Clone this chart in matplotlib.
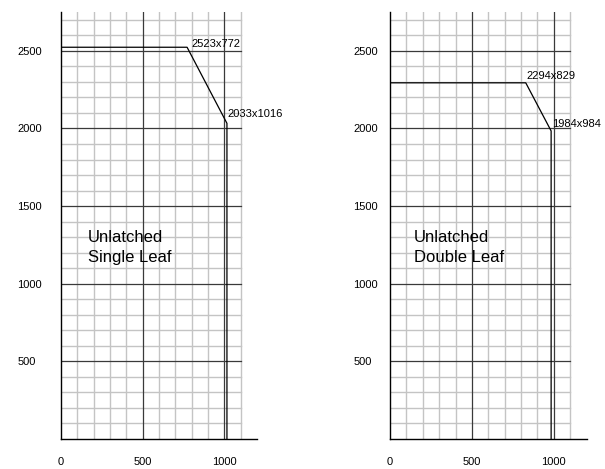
import matplotlib.pyplot as plt
import numpy as np

plt.rcParams['font.family'] = ['Liberation Sans', 'DejaVu Sans']

# door envelopes (width x height, mm)
single_w = [0, 772, 1016, 1016]
single_h = [2523, 2523, 2033, 0]
double_w = [0, 829, 984, 984]
double_h = [2294, 2294, 1984, 0]

single_labels = ["2523x772", "2033x1016"]
double_labels = ["2294x829", "1984x984"]
titles = ["Unlatched\nSingle Leaf", "Unlatched\nDouble Leaf"]

x_ticks = [0, 500, 1000]
y_ticks = [500, 1000, 1500, 2000, 2500]
grid_x_max = 1100
grid_y_max = 2700
x_max = 1200
y_max = 2750

fig = plt.figure(figsize=(6.05, 4.69), dpi=100)
ax1 = fig.add_axes([61 / 605, 30 / 469, 196 / 605, 427 / 469])
ax2 = fig.add_axes([390 / 605, 30 / 469, 196.5 / 605, 427 / 469])

MINOR = '#c4c4c4'
MAJOR = '#3a3a3a'


def draw_panel(ax, w, h, labels, offsets, title, title_x, ylab_pad):
    ax.set_xlim(0, x_max)
    ax.set_ylim(0, y_max)
    # minor then major grid, clipped at 1100 wide
    for v in range(100, grid_x_max + 1, 100):
        major = v % 500 == 0
        ax.plot([v, v], [0, y_max], color=MAJOR if major else MINOR,
                lw=0.9 if major else 1.0, zorder=2 if major else 1)
    for v in range(100, grid_y_max + 1, 100):
        major = v % 500 == 0
        ax.plot([0, grid_x_max], [v, v], color=MAJOR if major else MINOR,
                lw=0.9 if major else 1.0, zorder=2 if major else 1)

    ax.plot(w, h, color='black', lw=0.9, zorder=3)

    pts = [(w[1], h[1]), (w[2], h[2])]
    for (px, py), lab, off in zip(pts, labels, offsets):
        ax.annotate(lab, (px, py), xytext=off, textcoords='offset points',
                    ha='left', va='center', fontsize=8, zorder=4)

    ax.text(title_x, 1235, title, ha='left', va='center', fontsize=12,
            linespacing=1.4, zorder=4)

    for s in ['top', 'right']:
        ax.spines[s].set_visible(False)
    for s in ['left', 'bottom']:
        ax.spines[s].set_linewidth(1.0)
        ax.spines[s].set_color('black')

    ax.set_xticks(x_ticks)
    ax.set_yticks(y_ticks)
    ax.tick_params(axis='both', length=0, labelsize=8)
    ax.tick_params(axis='x', pad=13)
    ax.tick_params(axis='y', pad=ylab_pad)
    for t in ax.get_yticklabels():
        t.set_horizontalalignment('left')


draw_panel(ax1, single_w, single_h, single_labels, [(3, 2), (0, 6.5)],
           titles[0], 165, 31.5)
draw_panel(ax2, double_w, double_h, double_labels, [(0.5, 5), (0.7, 5.2)],
           titles[1], 147, 26.5)

fig.savefig('out.png', dpi=100)
